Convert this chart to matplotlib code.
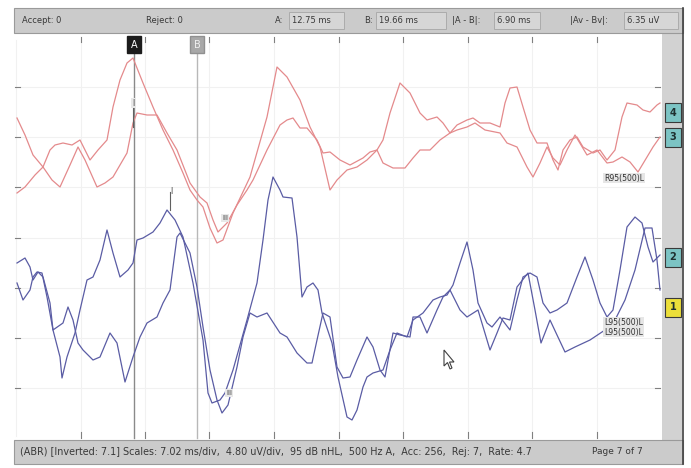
import matplotlib
matplotlib.use("Agg")
import matplotlib.pyplot as plt
from matplotlib.patches import Rectangle, Polygon

# ---------------- data (sample position, level) ----------------
ch4_t = [17,25,35,43,50,55,63,72,80,85,
         90,98,107,113,120,127,133,143,153,163,
         173,183,190,197,203,210,217,223,233,250,
         267,277,287,300,310,320,330,337,347,357,
         367,377,383,390,400,410,420,427,437,443,
         450,457,467,473,480,490,500,505,510,517,
         523,530,537,547,553,558,563,570,577,583,
         593,600,607,615,622,627,637,643,650,657,660]
ch4_v = [193,187,175,167,150,145,143,145,140,150,
         160,150,140,107,80,63,58,83,107,130,
         150,173,190,200,207,228,243,240,213,177,
         117,67,77,100,127,147,190,180,170,167,
         160,150,140,113,83,93,113,120,117,123,
         133,125,120,118,123,123,127,103,88,87,
         107,130,143,143,160,170,150,140,137,147,
         153,150,160,150,117,103,105,110,112,105,103]

ch3_t = [17,25,33,43,52,60,70,78,85,97,
         105,113,127,133,137,147,157,167,177,190,
         200,207,213,218,227,237,247,253,267,280,
         287,293,300,307,317,323,330,340,350,363,
         370,377,383,393,405,413,420,430,440,450,
         457,467,475,485,500,507,517,527,533,540,
         547,553,560,567,575,587,597,607,613,622,
         630,638,647,653,660]
ch3_v = [118,135,155,167,180,187,165,147,160,187,
         183,177,153,123,113,115,115,133,150,183,
         197,203,220,232,223,205,190,180,150,125,
         120,118,128,128,140,153,152,160,165,158,
         152,150,163,168,168,158,150,150,140,133,
         130,127,123,130,133,143,147,167,177,163,
         147,158,165,150,135,155,150,163,162,157,
         162,172,157,147,137]

ch2_t = [17,25,30,33,38,43,50,53,60,62,
         67,75,80,87,93,100,107,113,120,128,
         133,137,143,153,160,167,175,183,193,203,
         208,212,220,225,233,240,247,257,263,268,
         273,280,283,292,297,302,307,313,318,322,
         332,338,347,352,357,363,367,373,383,390,
         397,407,413,423,433,440,447,453,460,467,
         473,478,487,492,500,510,517,523,530,537,
         543,550,557,567,577,585,593,600,607,613,
         620,627,635,642,648,653,660]
ch2_v = [263,258,267,280,272,277,303,330,357,378,
         357,333,310,280,277,260,230,253,277,270,
         263,240,238,232,223,210,220,237,283,340,
         393,403,400,393,370,345,320,283,240,200,
         177,190,197,198,237,297,287,283,290,313,
         343,377,417,420,410,387,377,373,370,350,
         333,337,320,313,300,297,295,285,263,242,
         270,303,323,327,317,330,300,277,273,277,
         303,313,310,303,277,257,280,303,317,310,
         270,227,217,223,247,262,255]

ch1_t = [17,23,30,33,37,42,47,53,63,68,
         73,78,83,93,100,110,117,125,133,140,
         147,157,163,170,177,180,190,197,203,210,
         217,222,228,237,243,250,257,267,280,287,
         297,307,312,317,323,330,337,343,350,357,
         367,373,380,385,393,400,410,413,420,427,
         437,443,450,460,467,478,490,497,503,510,
         517,528,535,541,550,557,565,575,590,605,
         615,625,635,645,652,657,660]
ch1_v = [283,300,290,277,272,273,297,330,323,307,
         320,343,350,360,357,333,343,382,357,337,
         323,317,303,290,237,233,253,287,327,370,
         400,413,405,367,337,313,317,313,333,337,
         353,363,363,340,313,317,367,378,377,360,
         337,347,370,377,333,335,337,317,317,333,
         310,297,290,310,317,310,350,333,318,320,
         287,273,310,343,320,335,352,347,340,330,
         320,300,270,228,228,260,290]

# status bar texts
accept_txt = "Accept: 0"
reject_txt = "Reject: 0"
cursor_fields = [("A:", "12.75 ms"), ("B:", "19.66 ms"),
                 ("|A - B|:", "6.90 ms"), ("|Av - Bv|:", "6.35 uV")]
footer_txt = ("(ABR) [Inverted: 7.1] Scales: 7.02 ms/div,  4.80 uV/div,  95 dB nHL,  "
              "500 Hz A,  Acc: 256,  Rej: 7,  Rate: 4.7")
page_txt = "Page 7 of 7"
channel_labels = ["4", "3", "2", "1"]
trace_tags = ["R95(500)L", "L95(500)L", "L95(500)L"]

# ---------------- figure ----------------
W, H = 691, 468
fig = plt.figure(figsize=(W / 100, H / 100), dpi=100)
ax = fig.add_axes([0, 0, 1, 1])
ax.set_xlim(0, W)
ax.set_ylim(H, 0)
ax.axis("off")
fig.patch.set_facecolor("white")

FONT = "DejaVu Sans"
TXT = "#383838"

# plot area gridlines
for gx in [16, 81, 145, 209, 274, 339, 403, 468, 532, 597]:
    ax.plot([gx, gx], [40, 436], color="#f1f1f1", lw=0.8, zorder=1)
for gy in [87, 137, 187, 238, 288, 338, 388]:
    ax.plot([16, 660], [gy, gy], color="#f1f1f1", lw=0.8, zorder=1)
    ax.plot([15, 20], [gy, gy], color="#808080", lw=0.8, zorder=2)
    ax.plot([655, 660], [gy, gy], color="#808080", lw=0.8, zorder=2)
for tx in [81, 145, 209, 274, 339, 403, 468, 532, 597]:
    ax.plot([tx, tx], [37, 42], color="#808080", lw=0.8, zorder=2)
    ax.plot([tx, tx], [432, 438], color="#808080", lw=0.8, zorder=2)

# cursors A and B
ax.plot([134, 134], [52, 438], color="#8a8a8a", lw=1.0, zorder=3)
ax.plot([197, 197], [52, 438], color="#b8b8b8", lw=1.0, zorder=3)
ax.add_patch(Rectangle((127, 36), 14, 17, facecolor="#1c1c1c", edgecolor="#1c1c1c", zorder=6))
ax.text(134, 44.5, "A", color="white", fontsize=7, ha="center", va="center", family=FONT, zorder=7)
ax.add_patch(Rectangle((190, 36), 14, 17, facecolor="#a8a8a8", edgecolor="#909090", zorder=6))
ax.text(197, 44.5, "B", color="#f0f0f0", fontsize=7, ha="center", va="center", family=FONT, zorder=7)

# waveforms
red = "#e48a8c"
blue = "#5a5ca4"
ax.plot(ch4_t, ch4_v, color=red, lw=0.9, zorder=4)
ax.plot(ch3_t, ch3_v, color=red, lw=0.9, zorder=4)
ax.plot(ch2_t, ch2_v, color=blue, lw=0.9, zorder=4)
ax.plot(ch1_t, ch1_v, color=blue, lw=0.9, zorder=4)

# wave-peak tags
ax.plot([133, 133], [100, 127], color="#606060", lw=0.8, zorder=5)
ax.text(133, 103, "I", fontsize=5.5, ha="center", va="center", color="#404040", family=FONT, zorder=6,
        bbox=dict(boxstyle="square,pad=0.1", fc="#e8e8e8", ec="none"))
ax.text(225, 218, "III", fontsize=5, ha="center", va="center", color="#404040", family=FONT, zorder=6,
        bbox=dict(boxstyle="square,pad=0.1", fc="#e8e8e8", ec="none"))
ax.plot([170, 170], [192, 210], color="#606060", lw=0.8, zorder=5)
ax.text(171, 192, "I", fontsize=5.5, ha="center", va="center", color="#404040", family=FONT, zorder=6)
ax.text(229, 393, "III", fontsize=5, ha="center", va="center", color="#404040", family=FONT, zorder=6,
        bbox=dict(boxstyle="square,pad=0.1", fc="#e8e8e8", ec="none"))

# trace tags at right
ax.text(604, 178, trace_tags[0], fontsize=5.5, ha="left", va="center", color="#303030", family=FONT, zorder=6,
        bbox=dict(boxstyle="square,pad=0.1", fc="#e6e6e6", ec="none"))
ax.text(604, 322, trace_tags[1], fontsize=5.5, ha="left", va="center", color="#303030", family=FONT, zorder=6,
        bbox=dict(boxstyle="square,pad=0.1", fc="#e6e6e6", ec="none"))
ax.text(604, 332, trace_tags[2], fontsize=5.5, ha="left", va="center", color="#303030", family=FONT, zorder=6,
        bbox=dict(boxstyle="square,pad=0.1", fc="#e6e6e6", ec="none"))

# mouse cursor
ax.add_patch(Polygon([(444, 350), (444, 366), (447.5, 362.5), (450, 369), (452, 368),
                      (449.5, 362), (454, 362)], closed=True, fc="white", ec="#404040", lw=0.8, zorder=8))

# right panel with channel labels
ax.add_patch(Rectangle((662, 33), 20, 407, facecolor="#d2d2d2", edgecolor="none", zorder=2))
ax.plot([683, 683], [8, 464], color="#404040", lw=1.2, zorder=9)
label_y = [103, 128, 248, 298]
label_fc = ["#7cc4c4", "#7cc4c4", "#7cc4c4", "#ecdf3a"]
for lab, ly, fc in zip(channel_labels, label_y, label_fc):
    ax.add_patch(Rectangle((665, ly), 16, 19, facecolor=fc, edgecolor="#3a3a3a", lw=0.8, zorder=7))
    ax.text(673, ly + 9.5, lab, fontsize=7, ha="center", va="center", color="#1f3030",
            family=FONT, weight="bold", zorder=8)

# top status bar
ax.add_patch(Rectangle((14, 8), 669, 25, facecolor="#cbcbcb", edgecolor="#9a9a9a", lw=0.8, zorder=5))
ax.text(22, 20.5, accept_txt, fontsize=6, ha="left", va="center", color=TXT, family=FONT, zorder=7)
ax.text(146, 20.5, reject_txt, fontsize=6, ha="left", va="center", color=TXT, family=FONT, zorder=7)
label_x = [275, 364, 452, 570]
box_x = [(289, 344), (376, 446), (494, 540), (624, 678)]
for (lab, val), lx, (b0, b1) in zip(cursor_fields, label_x, box_x):
    ax.text(lx, 20.5, lab, fontsize=6, ha="left", va="center", color=TXT, family=FONT, zorder=7)
    ax.add_patch(Rectangle((b0, 12), b1 - b0, 17, facecolor="#d6d6d6", edgecolor="#ababab", lw=0.7, zorder=6))
    ax.text(b0 + 3, 20.5, val, fontsize=6, ha="left", va="center", color=TXT, family=FONT, zorder=7)

# bottom status bar
ax.add_patch(Rectangle((14, 440), 669, 24, facecolor="#cbcbcb", edgecolor="#9a9a9a", lw=0.8, zorder=5))
ax.text(20, 452, footer_txt, fontsize=6.9, ha="left", va="center", color=TXT, family=FONT, zorder=7)
ax.text(592, 452, page_txt, fontsize=6.5, ha="left", va="center", color=TXT, family=FONT, zorder=7)

fig.savefig("out.png", dpi=100)
